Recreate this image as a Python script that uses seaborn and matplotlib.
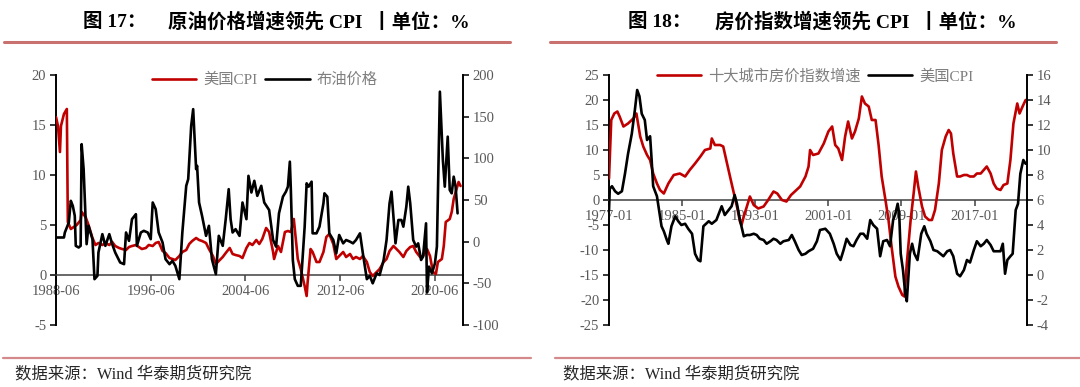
import matplotlib
matplotlib.use("Agg")
import matplotlib.pyplot as plt
import matplotlib.dates as mdates
from matplotlib.lines import Line2D
import seaborn as sns
import pandas as pd

# ---------------- data: panel 17 (US CPI vs Brent, yoy %) ----------------
cpi_a_dates = [
    "1988-06", "1988-08", "1988-10", "1988-11",
    "1989-02", "1989-05", "1989-06", "1989-09", "1989-12",
    "1990-03", "1990-07", "1990-08", "1990-12",
    "1991-03", "1991-07", "1991-10",
    "1992-01", "1992-05", "1992-08", "1992-12",
    "1993-03", "1993-06", "1993-10",
    "1994-01", "1994-05", "1994-08", "1994-11",
    "1995-03", "1995-06", "1995-09",
    "1996-01", "1996-04", "1996-08", "1996-11",
    "1997-02", "1997-06", "1997-09",
    "1998-01", "1998-04", "1998-07", "1998-11",
    "1999-02", "1999-06", "1999-09", "1999-12",
    "2000-04", "2000-07", "2000-10",
    "2001-02", "2001-05", "2001-09", "2001-12",
    "2002-03", "2002-07", "2002-10",
    "2003-02", "2003-05", "2003-08", "2003-12",
    "2004-03", "2004-07", "2004-10",
    "2005-01", "2005-05", "2005-08", "2005-11",
    "2006-03", "2006-06", "2006-10", "2006-11",
    "2007-03", "2007-06", "2007-10",
    "2008-01", "2008-04", "2008-07", "2008-09", "2008-11",
    "2009-02", "2009-06", "2009-08", "2009-09", "2009-12",
    "2010-02", "2010-06", "2010-09",
    "2011-01", "2011-04", "2011-07", "2011-11",
    "2012-02", "2012-05", "2012-09", "2012-12",
    "2013-04", "2013-07", "2013-10",
    "2014-02", "2014-05", "2014-09", "2014-12",
    "2015-03", "2015-07", "2015-10",
    "2016-02", "2016-05", "2016-08", "2016-12",
    "2017-03", "2017-06", "2017-10",
    "2018-01", "2018-05", "2018-08", "2018-11",
    "2019-03", "2019-06", "2019-10",
    "2020-01", "2020-04", "2020-07", "2020-09",
    "2021-01", "2021-03", "2021-05", "2021-09", "2021-11",
    "2022-01", "2022-04", "2022-06", "2022-08",
]
cpi_a_values = [
    15.8, 14.9, 12.3, 14.9,
    16.1, 16.6, 5.3, 4.6, 4.8,
    5.0, 5.5, 6.3, 5.8,
    5.0, 3.7, 3.0,
    3.2, 3.0, 3.2, 3.0,
    3.3, 2.9, 2.7,
    2.6, 2.5, 2.8, 2.9,
    3.0, 2.8, 2.6,
    2.7, 3.0, 2.9, 3.2,
    3.3, 2.4, 2.2,
    1.7, 1.6, 1.5, 1.9,
    2.3, 2.5, 3.1, 3.4,
    3.7, 3.5, 3.4,
    3.2, 2.6, 1.9, 1.1,
    1.4, 1.8, 2.2,
    2.7, 2.1, 2.0, 1.9,
    1.7, 2.7, 3.2,
    3.0, 3.5, 3.1, 3.6,
    4.7, 4.3, 2.3, 1.6,
    2.9, 2.3, 4.3,
    4.4, 4.3, 5.6, 3.6, 1.6,
    0.6, -1.1, -2.1, -0.7, 2.6,
    2.3, 1.3, 1.3,
    2.3, 3.8, 4.1, 3.1,
    1.6, 1.9, 2.3, 1.8,
    2.1, 1.6, 1.8,
    1.6, 1.9, 1.3, 0.3,
    -0.1, 0.3, 0.6,
    1.3, 1.6, 2.4, 2.9,
    2.6, 2.3, 1.8,
    2.4, 2.8, 2.9, 2.3,
    1.8, 1.9, 2.6,
    1.9, 0.3, 0.1, 1.3,
    1.6, 2.9, 5.3, 5.6, 6.3,
    7.6, 8.6, 9.3, 8.9,
]

brent_dates = [
    "1988-06",
    "1989-02", "1989-03", "1989-07", "1989-09", "1989-11",
    "1990-01", "1990-02", "1990-05", "1990-07", "1990-08", "1990-10", "1990-12",
    "1991-01", "1991-03", "1991-07", "1991-09", "1991-12",
    "1992-01", "1992-05", "1992-08", "1992-12",
    "1993-03", "1993-06", "1993-11",
    "1994-03", "1994-05", "1994-08", "1994-11",
    "1995-03", "1995-04", "1995-08", "1995-11",
    "1996-03", "1996-06", "1996-08", "1996-11",
    "1997-02", "1997-06", "1997-09",
    "1998-01", "1998-04", "1998-07", "1998-11",
    "1999-02", "1999-06", "1999-08", "1999-11",
    "2000-01", "2000-04", "2000-05", "2000-07", "2000-10",
    "2001-02", "2001-05", "2001-08", "2001-12",
    "2002-03", "2002-07", "2002-10",
    "2003-01", "2003-03", "2003-05", "2003-08", "2003-12",
    "2004-03", "2004-07", "2004-09", "2004-12",
    "2005-03", "2005-06", "2005-10",
    "2006-01", "2006-06", "2006-10",
    "2007-01", "2007-04", "2007-08", "2007-11",
    "2008-01", "2008-03", "2008-04", "2008-06", "2008-08", "2008-11",
    "2009-02", "2009-06", "2009-08", "2009-10",
    "2010-01", "2010-02", "2010-06", "2010-09",
    "2011-01", "2011-02", "2011-05", "2011-07", "2011-11",
    "2012-02", "2012-05", "2012-09", "2012-12",
    "2013-04", "2013-07", "2013-10",
    "2014-02", "2014-05", "2014-09", "2014-12",
    "2015-03", "2015-07", "2015-10",
    "2016-02", "2016-05", "2016-08", "2016-10", "2016-12",
    "2017-02", "2017-05", "2017-08", "2017-10",
    "2018-01", "2018-03", "2018-05", "2018-08", "2018-11",
    "2019-01", "2019-04", "2019-06", "2019-09", "2019-10", "2019-12",
    "2020-03", "2020-06", "2020-08", "2020-11",
    "2021-02", "2021-04", "2021-07", "2021-09", "2021-11",
    "2022-01", "2022-03", "2022-05",
]
brent_values = [
    5,
    5, 11, 23, 49, 43,
    31, -5, -7, -5, 117, 87, 27,
    -3, 19, 3, -45, -41,
    -13, 9, -5, 9,
    -3, -13, -25,
    -27, 11, 1, 27,
    33, -5, 11, 13,
    11, 3, 47, 39,
    11, -1, -21,
    -27, -23, -29, -45,
    11, 67, 75, 139,
    159, 87, 91, 47, 31,
    7, 19, -21, -39,
    7, -5, 27,
    63, 27, 11, 15, 7,
    47, 27, 79, 59,
    73, 55, 67,
    47, 38, 2,
    -6, 34, 54, 60,
    66, 96, 62, -22, -45, -53,
    -53, 18, 70, 66,
    72, 10, 10, 18,
    46, 58, 54, 10, 2,
    -14, 8, -2, 2,
    0, -2, 2,
    10, -14, -45, -41,
    -50, -38, -40,
    -22, 2, 46, 60, 30,
    -2, 26, 26, 18,
    42, 66, 46, 2, -6,
    -2, -22, -18, 22, -61, -30,
    -38, -26, -6, 180,
    98, 66, 126, 62, 58,
    78, 66, 34,
]

# ---------------- data: panel 18 (ten-city house prices vs US CPI) ----------------
house_dates = [
    "1977-01", "1977-04", "1977-08", "1977-12",
    "1978-03", "1978-08",
    "1979-02", "1979-09",
    "1980-01", "1980-06", "1980-10",
    "1981-03", "1981-07", "1981-11",
    "1982-04", "1982-08",
    "1983-01", "1983-07",
    "1984-02", "1984-10",
    "1985-05", "1985-11",
    "1986-06",
    "1987-01", "1987-07",
    "1988-02", "1988-04", "1988-08",
    "1989-03", "1989-07", "1989-12",
    "1990-06",
    "1991-01", "1991-05", "1991-07", "1991-10",
    "1992-02", "1992-06", "1992-11",
    "1993-05", "1993-12",
    "1994-06",
    "1995-01", "1995-06", "1995-12",
    "1996-06", "1996-12",
    "1997-05", "1997-12",
    "1998-07", "1998-11",
    "1999-01", "1999-05", "1999-12",
    "2000-07",
    "2001-01", "2001-06", "2001-10",
    "2002-02", "2002-07", "2002-11",
    "2003-03", "2003-08", "2003-12",
    "2004-05", "2004-09",
    "2005-01", "2005-06", "2005-10",
    "2006-03", "2006-07", "2006-11",
    "2007-04", "2007-08", "2007-12",
    "2008-05", "2008-09",
    "2009-02", "2009-05", "2009-08",
    "2010-01", "2010-05", "2010-08", "2010-11",
    "2011-04", "2011-08",
    "2012-01", "2012-05", "2012-09",
    "2013-02", "2013-06", "2013-11",
    "2014-03", "2014-06", "2014-09",
    "2015-02", "2015-06", "2015-11",
    "2016-03", "2016-07", "2016-12",
    "2017-04", "2017-09",
    "2018-01", "2018-05", "2018-10",
    "2019-02", "2019-06", "2019-11",
    "2020-03", "2020-08", "2020-12",
    "2021-04", "2021-09", "2021-12",
    "2022-04", "2022-08",
]
house_values = [
    4.3, 16.0, 17.3, 17.7,
    16.7, 14.7,
    15.3, 16.3,
    17.3, 12.7, 10.7,
    9.0, 8.0, 5.3,
    3.3, 2.0,
    1.3, 3.3,
    5.0, 5.3,
    4.7, 6.0,
    7.3,
    8.7, 10.0,
    10.3, 12.3, 11.0,
    11.0, 10.7, 7.3,
    3.3,
    -1.3, -4.3, -5.0, -3.3,
    -1.3, 0.7, -1.0,
    -1.7, -1.3,
    0.0,
    1.7, 1.3, 0.0,
    -0.3, 1.0,
    1.7, 2.7,
    4.7, 6.7,
    10.0, 9.0, 9.3,
    11.3,
    13.7, 14.7, 11.0,
    10.3, 8.0, 12.7,
    15.7, 12.3, 13.7,
    16.3, 20.7,
    19.3, 18.7, 16.0,
    16.0, 11.0, 4.7,
    0.0, -4.0, -9.3,
    -15.3, -17.3,
    -19.0, -19.3, -12.7,
    -4.0, 1.3, 5.7, 2.7,
    -1.3, -3.3,
    -4.0, -4.0, -2.0,
    3.3, 10.0, 12.7,
    14.0, 13.3, 9.3,
    4.7, 4.7, 5.0,
    5.0, 4.7, 4.7,
    5.3, 5.3,
    6.0, 6.7, 5.3,
    3.3, 2.3, 2.0,
    3.0, 3.3, 8.0,
    15.3, 19.3, 17.3,
    18.7, 20.0,
]

cpi_b_dates = [
    "1977-01", "1977-02", "1977-05", "1977-09",
    "1978-01", "1978-06", "1978-10",
    "1979-02", "1979-07", "1979-11",
    "1980-02", "1980-05", "1980-08", "1980-12",
    "1981-03", "1981-07", "1981-09", "1981-11",
    "1982-04", "1982-07", "1982-10",
    "1983-01", "1983-05", "1983-07", "1983-11",
    "1984-04", "1984-08", "1984-12",
    "1985-05", "1985-09",
    "1986-02", "1986-06", "1986-10",
    "1987-01", "1987-05", "1987-12",
    "1988-04", "1988-10",
    "1989-05", "1989-09",
    "1990-02", "1990-06", "1990-10",
    "1991-01", "1991-05", "1991-10",
    "1992-02", "1992-06", "1992-11",
    "1993-03", "1993-07", "1993-12",
    "1994-04", "1994-09",
    "1995-01", "1995-05", "1995-10",
    "1996-02", "1996-09",
    "1997-01", "1997-05", "1997-10",
    "1998-02", "1998-07", "1998-11",
    "1999-05", "1999-10",
    "2000-02", "2000-09",
    "2001-03", "2001-08", "2001-12",
    "2002-05", "2002-09",
    "2003-01", "2003-06", "2003-10",
    "2004-02", "2004-07", "2004-11",
    "2005-04", "2005-08", "2005-12",
    "2006-05", "2006-09",
    "2007-01", "2007-06", "2007-10",
    "2008-02", "2008-05", "2008-08", "2008-10", "2008-12",
    "2009-03", "2009-06", "2009-08", "2009-12",
    "2010-03", "2010-06", "2010-10",
    "2011-03", "2011-07", "2011-10",
    "2012-03", "2012-07", "2012-12",
    "2013-04", "2013-08",
    "2014-01", "2014-05", "2014-09",
    "2015-02", "2015-06", "2015-11",
    "2016-03", "2016-07", "2016-12",
    "2017-04", "2017-09",
    "2018-01", "2018-05", "2018-10",
    "2019-02", "2019-06", "2019-11",
    "2020-02", "2020-05", "2020-08", "2020-12",
    "2021-03", "2021-07", "2021-10",
    "2022-01", "2022-05", "2022-08",
]
cpi_b_values = [
    5.2, 6.9, 7.1, 6.7,
    6.5, 6.7, 8.1,
    9.7, 11.3, 13.2,
    14.8, 14.3, 12.9, 12.4,
    10.8, 11.1, 9.2, 7.1,
    6.3, 5.1, 3.9,
    3.5, 2.8, 2.5, 3.9,
    4.7, 4.3, 4.0,
    4.1, 3.7,
    3.3, 1.7, 1.2,
    1.1, 3.9, 4.3,
    4.1, 4.4,
    5.5, 4.8,
    5.2, 5.5, 6.4,
    5.7, 4.4, 3.1,
    3.2, 3.2, 3.3,
    3.2, 2.9, 2.8,
    2.5, 2.7,
    2.9, 2.8, 2.5,
    2.7, 2.8,
    3.2, 2.7, 2.0,
    1.6, 1.7, 1.9,
    2.1, 2.7,
    3.6, 3.7,
    3.3, 2.5, 1.7,
    1.2, 2.0,
    2.9, 2.4, 2.3,
    2.8, 3.3, 3.3,
    2.9, 4.4, 4.0,
    3.7, 1.5,
    2.7, 2.8, 2.3,
    4.4, 4.9, 5.7, 4.9, 1.7,
    0.4, -1.5, -2.1, 1.7,
    2.5, 1.7, 1.2,
    3.3, 3.9, 3.3,
    2.7, 2.0, 1.9,
    1.7, 1.5,
    1.9, 2.0, 1.5,
    0.1, -0.1, 0.4,
    1.2, 1.0, 2.0,
    2.7, 2.3,
    2.5, 2.8, 2.4,
    1.9, 1.9, 1.9,
    2.5, 0.1, 1.2, 1.5,
    1.7, 5.2, 5.7,
    8.1, 9.2, 8.9,
]

# ---------------- labels / ticks ----------------
titles_a = ("图 17：", "原油价格增速领先 CPI  丨单位：%")
titles_b = ("图 18：", "房价指数增速领先 CPI  丨单位：%")
legend_a = ("美国CPI", "布油价格")
legend_b = ("十大城市房价指数增速", "美国CPI")
xticks_a = ["1988-06", "1996-06", "2004-06", "2012-06", "2020-06"]
xticks_b = ["1977-01", "1985-01", "1993-01", "2001-01", "2009-01", "2017-01"]
yticks_a_left = [-5, 0, 5, 10, 15, 20]
yticks_a_right = [-100, -50, 0, 50, 100, 150, 200]
yticks_b_left = [-25, -20, -15, -10, -5, 0, 5, 10, 15, 20, 25]
yticks_b_right = [-4, -2, 0, 2, 4, 6, 8, 10, 12, 14, 16]
source_text = "数据来源：Wind 华泰期货研究院"

# ---------------- style ----------------
sns.set_theme(style="white")
FAM = ["Liberation Serif", "Noto Sans CJK SC", "DejaVu Sans"]
plt.rcParams["font.family"] = FAM
plt.rcParams["axes.unicode_minus"] = False

RED = "#c00000"
BLACK = "#000000"
TICK_C = "#595959"
LW = 1.9

W, H = 1080, 387
fig = plt.figure(figsize=(W / 100, H / 100), dpi=100)


def fx(px):
    return px / W


def fy(py):
    return 1 - py / H


def make_panel(x0, x1, left_series, right_series, ylim_l, ylim_r,
               yt_l, yt_r, xt, xlim, leg_labels, leg_center):
    ax = fig.add_axes([fx(x0), fy(325), fx(x1 - x0), (325 - 75) / H])
    axr = ax.twinx()
    d, v, c = left_series
    sns.lineplot(x=pd.to_datetime(d), y=v, ax=ax, color=c, linewidth=LW,
                 zorder=3, legend=False, estimator=None, sort=False)
    d, v, c = right_series
    sns.lineplot(x=pd.to_datetime(d), y=v, ax=axr, color=c, linewidth=LW,
                 zorder=3, legend=False, estimator=None, sort=False)
    ax.set_ylim(*ylim_l)
    axr.set_ylim(*ylim_r)
    ax.set_xlim(pd.Timestamp(xlim[0]), pd.Timestamp(xlim[1]))
    ax.set_xlabel("")
    ax.set_ylabel("")
    axr.set_ylabel("")
    ax.set_yticks(yt_l)
    axr.set_yticks(yt_r)
    ax.set_xticks(pd.to_datetime(xt))
    ax.xaxis.set_major_formatter(mdates.DateFormatter("%Y-%m"))
    for a in (ax, axr):
        a.set_facecolor("none")
        a.spines["top"].set_visible(False)
        a.grid(False)
    ax.spines["right"].set_visible(False)
    axr.spines["left"].set_visible(False)
    axr.spines["bottom"].set_visible(False)
    ax.spines["bottom"].set_position(("data", 0))
    ax.spines["bottom"].set_color("#404040")
    ax.spines["bottom"].set_linewidth(1.1)
    ax.spines["left"].set_color("black")
    ax.spines["left"].set_linewidth(1.4)
    axr.spines["right"].set_color("black")
    axr.spines["right"].set_linewidth(1.4)
    ax.tick_params(axis="y", which="major", direction="out", length=4,
                   width=1.1, color="black", left=True, labelsize=10.5,
                   labelcolor=TICK_C, pad=3)
    axr.tick_params(axis="y", which="major", direction="out", length=4,
                    width=1.1, color="black", right=True, labelsize=10.5,
                    labelcolor=TICK_C, pad=3)
    ax.tick_params(axis="x", which="major", direction="out", length=4,
                   width=1.1, color="#404040", bottom=True, labelsize=10.5,
                   labelcolor=TICK_C, pad=3)
    ax.set_zorder(1)
    axr.set_zorder(2)
    handles = [
        Line2D([], [], color=left_series[2], lw=LW),
        Line2D([], [], color=right_series[2], lw=LW),
    ]
    leg = axr.legend(handles, leg_labels, loc="center", ncol=2,
                     bbox_to_anchor=leg_center, frameon=False,
                     fontsize=11, handlelength=2.9, handletextpad=0.45,
                     columnspacing=0.5, borderaxespad=0.0)
    for t in leg.get_texts():
        t.set_color("#7f7f7f")
    return ax, axr


make_panel(56, 463,
           (cpi_a_dates, cpi_a_values, RED),
           (brent_dates, brent_values, BLACK),
           (-5, 20), (-100, 200), yticks_a_left, yticks_a_right,
           xticks_a, ("1988-06-01", "2022-10-15"), legend_a,
           (0.513, (325 - 80) / 250))

make_panel(609, 1027,
           (house_dates, house_values, RED),
           (cpi_b_dates, cpi_b_values, BLACK),
           (-25, 25), (-4, 16), yticks_b_left, yticks_b_right,
           xticks_b, ("1977-01-01", "2022-09-25"), legend_b,
           (0.493, (325 - 76) / 250))

# ---------------- titles, rules, source ----------------
for (t1, t2), xa, xb in ((titles_a, 83, 168), (titles_b, 628, 715)):
    fig.text(fx(xa), fy(22), t1, fontsize=14, fontweight="bold",
             ha="left", va="center", color="black", family=FAM)
    fig.text(fx(xb), fy(22), t2, fontsize=14, fontweight="bold",
             ha="left", va="center", color="black", family=FAM)

for xa, xb in ((4, 510), (550, 1056)):
    fig.add_artist(Line2D([fx(xa), fx(xb)], [fy(42), fy(42)],
                          color="#c8716e", lw=2.2))
for xa, xb in ((3, 531), (555, 1080)):
    fig.add_artist(Line2D([fx(xa), fx(xb)], [fy(357.5), fy(357.5)],
                          color="#d48a8a", lw=1.6))
for xa in (15, 563):
    fig.text(fx(xa), fy(374), source_text, fontsize=11.8, ha="left",
             va="center", color="#262626", family=FAM)

fig.savefig("out.png", dpi=100, facecolor="white")
